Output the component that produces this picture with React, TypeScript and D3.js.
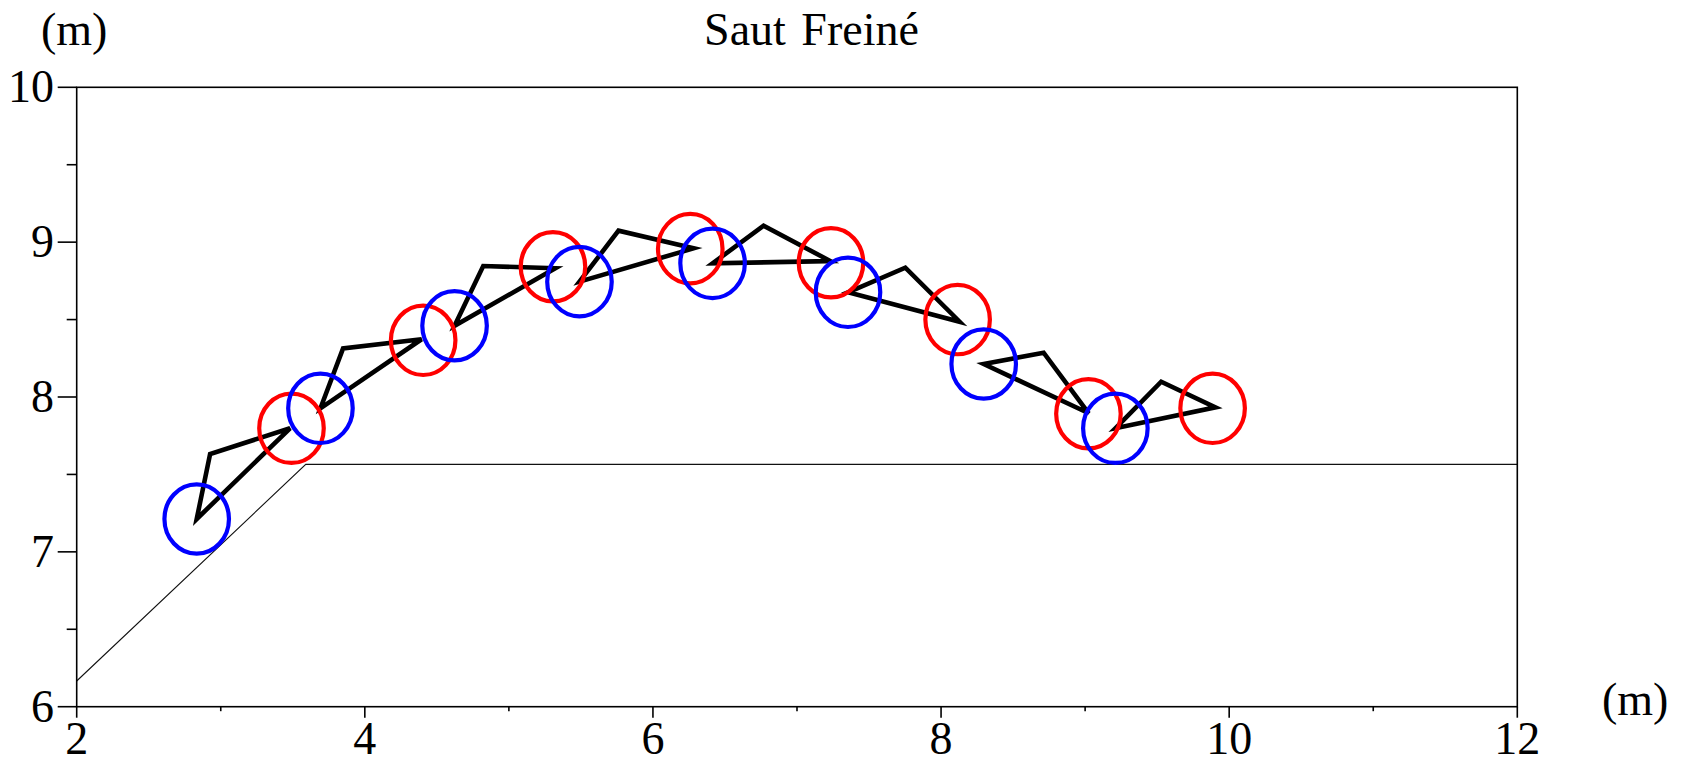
import React from "react";
import * as d3 from "d3";

const title = "Saut Freiné";
const unitLabel = "(m)";

const xTicks = [2, 4, 6, 8, 10, 12];
const yTicks = [6, 7, 8, 9, 10];

const groundX = [2, 3.59, 12];
const groundY = [6.166, 7.565, 7.565];

const blueX = [2.833, 3.692, 4.623, 5.49, 6.414, 7.354, 8.296, 9.21];
const blueY = [7.212, 7.927, 8.46, 8.745, 8.863, 8.676, 8.213, 7.798];
const redX = [3.491, 4.405, 5.306, 6.259, 7.236, 8.115, 9.023, 9.885];
const redY = [7.798, 8.366, 8.841, 8.958, 8.867, 8.5, 7.892, 7.927];
const peakX = [2.926, 3.849, 4.822, 5.761, 6.768, 7.752, 8.712, 9.528];
const peakY = [7.632, 8.314, 8.846, 9.074, 9.106, 8.835, 8.286, 8.099];
const tipX = [3.481, 4.394, 5.322, 6.282, 7.231, 8.129, 9.025, 9.905];
const tipY = [7.798, 8.373, 8.831, 8.96, 8.878, 8.486, 7.895, 7.933];

const circleR = 0.224;

export default function App() {
  const W = 1681;
  const H = 764;
  const x = d3.scaleLinear().domain([2, 12]).range([76.7, 1517.3]);
  const y = d3.scaleLinear().domain([6, 10]).range([706.7, 87.3]);
  const font = "'Liberation Serif', 'Times New Roman', serif";
  const fs = 46;

  const line = d3
    .line<[number, number]>()
    .x((d) => x(d[0]))
    .y((d) => y(d[1]));

  const ground = line(groundX.map((v, i) => [v, groundY[i]] as [number, number]));

  const triangles = blueX.map((bx, i) => {
    const pts: [number, number][] = [
      [bx, blueY[i]],
      [peakX[i], peakY[i]],
      [tipX[i], tipY[i]],
    ];
    return line(pts) + "Z";
  });

  const rx = x(2 + circleR) - x(2);
  const ry = y(6) - y(6 + circleR);

  const xMinor = d3.range(2, 12.001, 1);
  const yMinor = d3.range(6, 10.001, 0.5);

  const [x0, x1] = x.range();
  const [yb, yt] = y.range();

  return (
    <svg
      width={W}
      height={H}
      style={{ position: "absolute", left: 0, top: 0, background: "#fff" }}
    >
      <rect x={0} y={0} width={W} height={H} fill="#fff" />
      {/* ground */}
      <path d={ground || ""} fill="none" stroke="#111" strokeWidth={1.1} />
      {/* triangles */}
      {triangles.map((d, i) => (
        <path
          key={"t" + i}
          d={d}
          fill="none"
          stroke="#000"
          strokeWidth={4.6}
          strokeLinejoin="miter"
        />
      ))}
      {/* red circles */}
      {redX.map((cx, i) => (
        <ellipse
          key={"r" + i}
          cx={x(cx)}
          cy={y(redY[i])}
          rx={rx}
          ry={ry}
          fill="none"
          stroke="#ff0000"
          strokeWidth={4.2}
        />
      ))}
      {/* blue circles */}
      {blueX.map((cx, i) => (
        <ellipse
          key={"b" + i}
          cx={x(cx)}
          cy={y(blueY[i])}
          rx={rx}
          ry={ry}
          fill="none"
          stroke="#0000ff"
          strokeWidth={4.2}
        />
      ))}
      {/* frame */}
      <rect
        x={x0}
        y={yt}
        width={x1 - x0}
        height={yb - yt}
        fill="none"
        stroke="#000"
        strokeWidth={1.6}
      />
      {/* y ticks */}
      {yMinor.map((v) => {
        const major = Math.abs(v - Math.round(v)) < 1e-6;
        return (
          <line
            key={"yt" + v}
            x1={x0 - (major ? 19 : 10)}
            x2={x0}
            y1={y(v)}
            y2={y(v)}
            stroke="#000"
            strokeWidth={1.6}
          />
        );
      })}
      {/* x ticks */}
      {xMinor.map((v) => {
        const major = Math.abs(v % 2) < 1e-6;
        return (
          <line
            key={"xt" + v}
            x1={x(v)}
            x2={x(v)}
            y1={yb}
            y2={yb + (major ? 11 : 4.5)}
            stroke="#000"
            strokeWidth={1.6}
          />
        );
      })}
      {/* y tick labels */}
      {yTicks.map((v) => (
        <text
          key={"yl" + v}
          x={54}
          y={y(v) + 15}
          textAnchor="end"
          fontFamily={font}
          fontSize={fs}
          fill="#000"
        >
          {v}
        </text>
      ))}
      {/* x tick labels */}
      {xTicks.map((v) => (
        <text
          key={"xl" + v}
          x={x(v)}
          y={754}
          textAnchor="middle"
          fontFamily={font}
          fontSize={fs}
          fill="#000"
        >
          {v}
        </text>
      ))}
      {/* labels */}
      <text x={41} y={45} fontFamily={font} fontSize={fs} fill="#000">
        {unitLabel}
      </text>
      <text x={1602} y={715} fontFamily={font} fontSize={fs} fill="#000">
        {unitLabel}
      </text>
      <text
        x={811.5}
        y={45}
        textAnchor="middle"
        fontFamily={font}
        fontSize={fs}
        fill="#000"
        wordSpacing={4}
      >
        {title}
      </text>
    </svg>
  );
}
